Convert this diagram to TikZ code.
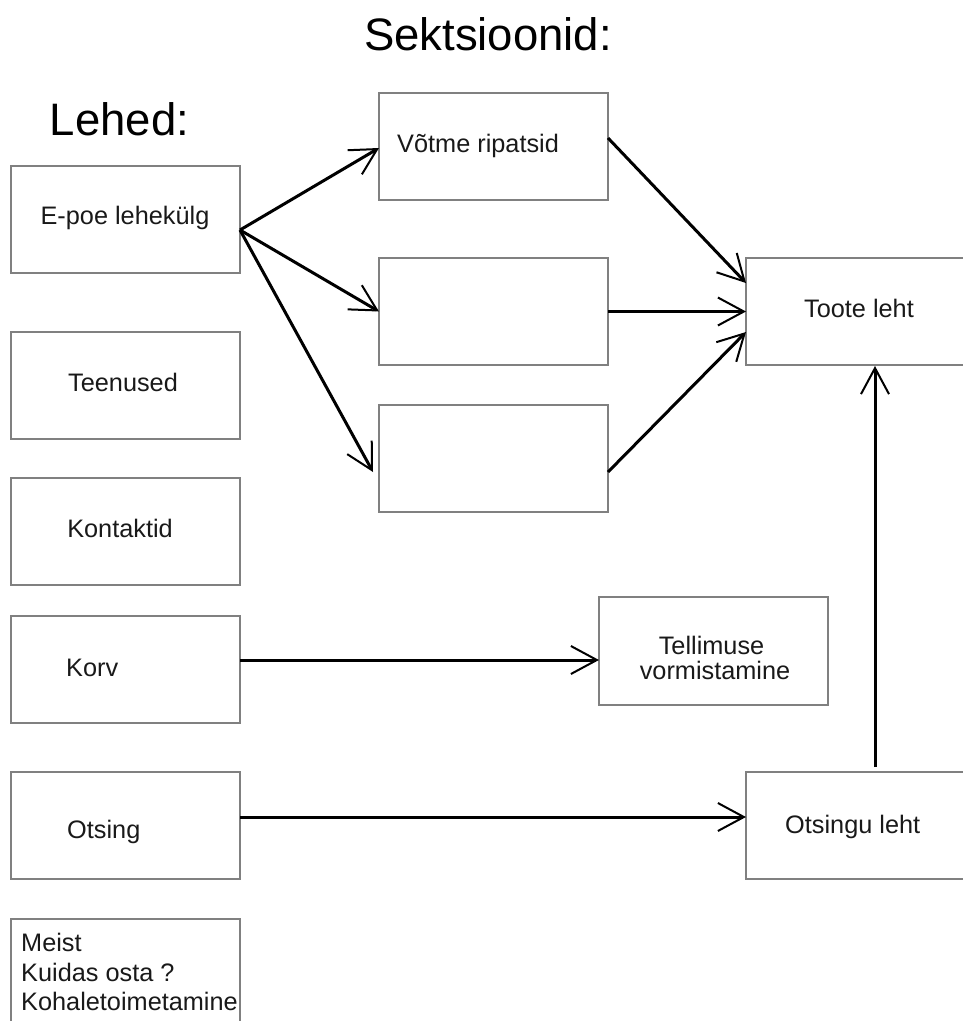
\documentclass[tikz,border=0pt]{standalone}
\usepackage{fontspec}
\setmainfont{Liberation Sans}
\usetikzlibrary{arrows.meta}
\definecolor{boxgray}{RGB}{128,128,128}
\definecolor{txt}{RGB}{25,25,25}
\begin{document}
\begin{tikzpicture}[x=1pt,y=-1pt,
  box/.style={draw=boxgray,line width=1.3pt,minimum width=229pt,minimum height=107pt,inner sep=0pt,outer sep=0pt},
  lbl/.style={inner sep=0pt,text=txt,font=\fontsize{25.3}{30}\selectfont},
  head/.style={inner sep=0pt,font=\fontsize{45.5}{54}\selectfont},
  arr/.style={line width=3pt,-{Straight Barb[length=26pt,width=28pt,line width=2pt]}}]
\useasboundingbox (0,0) rectangle (963,1021);
\clip (0,0) rectangle (963,1021);
% headings
\node[head,anchor=base] (hsek) at (488,50) {Sektsioonid:};
\node[head,anchor=base] (hleh) at (119.5,135) {Lehed:};
% left column boxes
\node[box] (epoe) at (125.5,219.5) {};
\node[box] (teen) at (125.5,385.5) {};
\node[box] (kont) at (125.5,531.5) {};
\node[box] (korv) at (125.5,669.5) {};
\node[box] (otsing) at (125.5,825.5) {};
\node[box] (meist) at (125.5,972.5) {};
% middle boxes
\node[box] (votme) at (493.5,146.5) {};
\node[box] (s2) at (493.5,311.5) {};
\node[box] (s3) at (493.5,458.5) {};
% right boxes
\node[box] (toote) at (860.5,311.5) {};
\node[box,minimum height=108pt] (tell) at (713.5,651) {};
\node[box] (otsl) at (860.5,825.5) {};
% texts
\node[lbl,anchor=base] (tepoe) at (125,224) {E-poe lehekülg};
\node[lbl,anchor=base] (tteen) at (123,391) {Teenused};
\node[lbl,anchor=base] (tkont) at (120,537) {Kontaktid};
\node[lbl,anchor=base west] (tkorv) at (66,676) {Korv};
\node[lbl,anchor=base west] (totsing) at (67,838) {Otsing};
\node[lbl,anchor=base west] (tm1) at (21,951.7) {Meist};
\node[lbl,anchor=base west] (tm2) at (21,981) {Kuidas osta ?};
\node[lbl,anchor=base west] (tm3) at (21,1010) {Kohaletoimetamine};
\node[lbl,anchor=base west] (tvotme) at (397,152) {Võtme ripatsid};
\node[lbl,anchor=base] (ttoote) at (859,317) {Toote leht};
\node[lbl,anchor=base] (ttell1) at (711.5,654.5) {Tellimuse};
\node[lbl,anchor=base] (ttell2) at (715,679) {vormistamine};
\node[lbl,anchor=base west] (totsl) at (785,833) {Otsingu leht};
% arrows
\draw[arr] ([yshift=-10.5pt]epoe.east) -- ([yshift=-1.5pt]votme.west);
\draw[arr] ([yshift=-10.5pt]epoe.east) -- (s2.west);
\draw[arr] ([yshift=-10.5pt]epoe.east) -- ([xshift=-6pt,yshift=-13.5pt]s3.west);
\draw[arr] ([yshift=8.5pt]votme.east) -- ([yshift=28.5pt]toote.west);
\draw[arr] (s2.east) -- (toote.west);
\draw[arr] ([yshift=-13.5pt]s3.east) -- ([yshift=-20.5pt]toote.west);
\draw[arr] ([yshift=9.5pt]korv.east) -- ([yshift=-9pt]tell.west);
\draw[arr] ([yshift=8.5pt]otsing.east) -- ([yshift=8.5pt]otsl.west);
\draw[arr] ([xshift=14.5pt,yshift=5pt]otsl.north) -- ([xshift=14.5pt,yshift=-1pt]toote.south);
\end{tikzpicture}
\end{document}
